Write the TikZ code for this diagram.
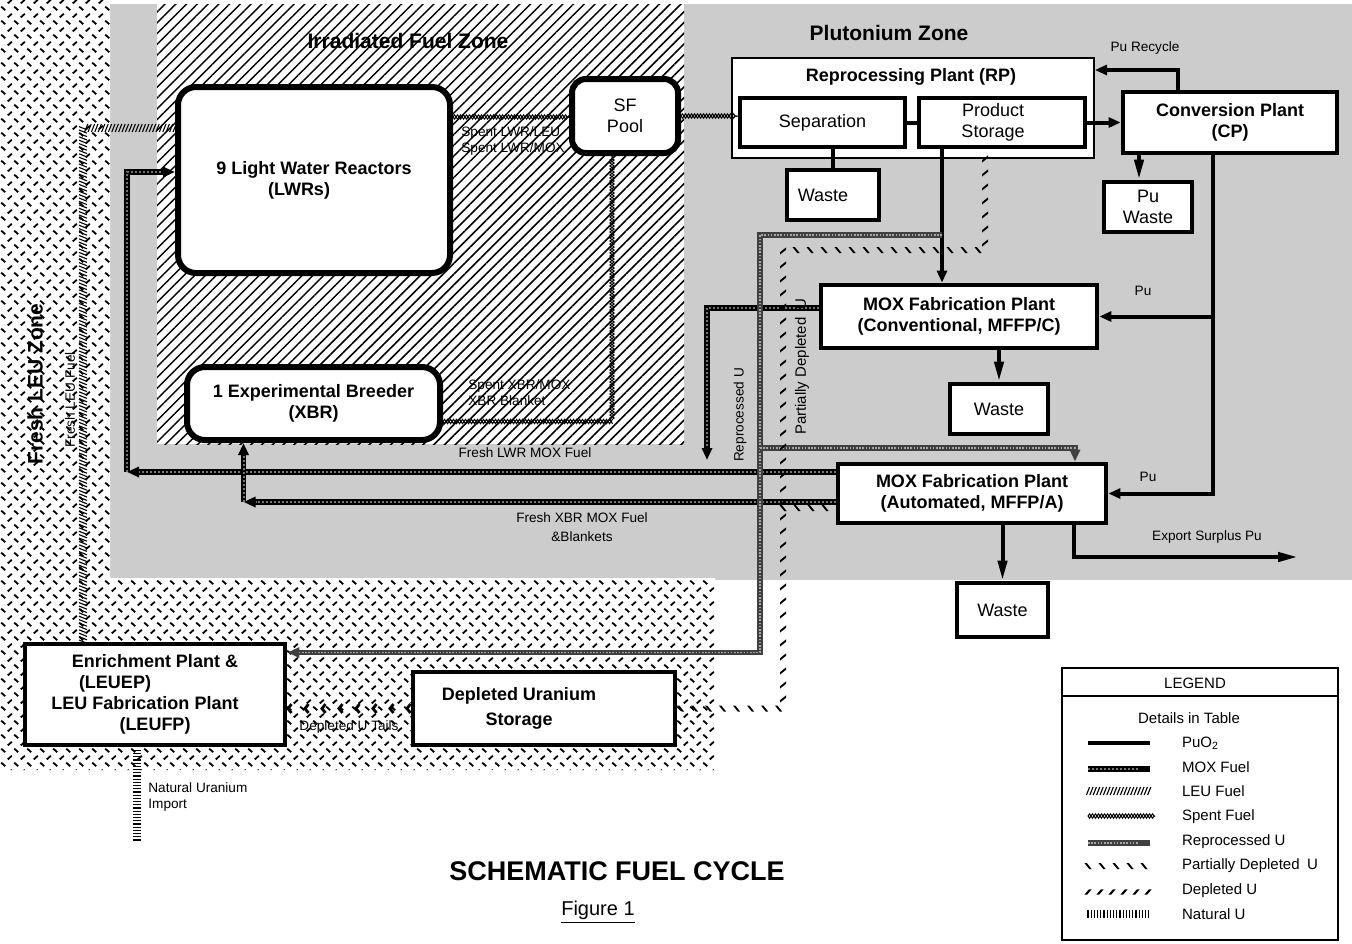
\documentclass[tikz,border=0pt]{standalone}
\usepackage{fontspec}
\setmainfont{Liberation Sans}
\usetikzlibrary{arrows.meta,patterns.meta,decorations.pathmorphing,decorations.markings,positioning}

\newcommand\plantfont{\fontsize{9}{10.5}\selectfont\bfseries}
\newcommand\plainfont{\fontsize{9}{10.5}\selectfont}
\newcommand\flowfont{\fontsize{6.8}{8}\selectfont}
\newcommand\zonefont{\fontsize{10.5}{12}\selectfont\bfseries}
\newcommand\legfont{\fontsize{7.5}{9}\selectfont}

% tread plate look of the fresh LEU zone
\tikzdeclarepattern{
  name=treadplate,
  type=uncolored,
  bounding box={(-0.5pt,-0.5pt) and (7pt,7.5pt)},
  tile size={(6.5pt,7pt)},
  code={
    \draw[line width=0.9pt] (0.6pt,6.2pt) -- (2.6pt,4.4pt);
    \draw[line width=0.9pt] (3.9pt,0.8pt) -- (5.9pt,2.6pt);
  }
}

\tikzset{
  plant/.style={draw, line width=2.4pt, fill=white, align=center, font=\plantfont, inner sep=1pt},
  roundplant/.style={plant, rounded corners=9pt, line width=3pt},
  smallbox/.style={plant, font=\plainfont},
  flowlabel/.style={font=\flowfont, inner sep=0.5pt},
  flowtip/.style={-{Triangle[length=6pt,width=5pt]}},
  longtip/.style={-{Triangle[length=10pt,width=4.5pt]}},
  puo2/.style={line width=2pt},
  moxfuel/.style={line width=2.8pt, postaction={draw, arrows=-, shorten >=6pt, black!55, line width=1pt, dash pattern=on 0.8pt off 1.2pt}},
  reproc/.style={line width=2.6pt, black!75, postaction={draw, arrows=-, shorten >=6pt, black!35, line width=0.9pt, dash pattern=on 0.8pt off 0.8pt}},
  spentfuel/.style={postaction={draw=black, line width=0.5pt, decorate, decoration={zigzag, segment length=3pt, amplitude=1.1pt}},
                    postaction={draw=black, line width=0.5pt, decorate, decoration={zigzag, segment length=3pt, amplitude=-1.1pt}}},
  leufuel/.style={decorate, decoration={markings, mark=between positions 0 and 1 step 1.7pt with {\draw[line width=0.55pt] (-0.8pt,-2pt) -- (0.8pt,2pt);}}},
  natu/.style={decorate, decoration={markings, mark=between positions 0 and 1 step 1.6pt with {\draw[line width=0.6pt] (0,-2pt) -- (0,2pt);}}},
  pdu/.style={decorate, decoration={markings, mark=between positions 0 and 1 step 7pt with {\fill (-1.8pt,1.5pt) -- (-0.6pt,1.5pt) -- (1.8pt,-1.5pt) -- (0.6pt,-1.5pt) -- cycle;}}},
  depu/.style={decorate, decoration={markings, mark=between positions 0 and 1 step 6pt with {\fill (-1.8pt,-1.3pt) -- (-0.4pt,-1.3pt) -- (1.8pt,1.3pt) -- (0.4pt,1.3pt) -- cycle;}}},
  deptails/.style={decorate, decoration={markings, mark=between positions 0.03 and 1 step 8.5pt with {\draw[line width=1.4pt] (-1.8pt,2.2pt) -- (0,0) -- (-1.8pt,-2.2pt);}}}
}

\begin{document}
\begin{tikzpicture}[x=0.5pt, y=-0.5pt]
\useasboundingbox (0,0) rectangle (1352,943);

    % Draw the zones
    \fill[black!20] (100,4) rectangle (1352,580);
    \fill[white] (157,4) rectangle (684,444);
    \fill[pattern={Lines[angle=45,distance=3.8pt,line width=0.75pt]}] (157,4) rectangle (684,444);
    \fill[white] (0,0) -- (110,0) -- (110,578) -- (715,578) -- (715,770) -- (0,770) -- cycle;
    \fill[pattern=treadplate] (0,0) -- (110,0) -- (110,578) -- (715,578) -- (715,770) -- (0,770) -- cycle;

    \node[font=\zonefont] (irrtitle) at (408,41) {Irradiated Fuel Zone};
    \node[font=\zonefont] (putitle) at (889,33) {Plutonium Zone};
    \node[font=\zonefont, rotate=90] (leutitle) at (35,384) {Fresh LEU Zone};

    % Reactors and pool
    \node[roundplant, minimum width=136pt, minimum height=93pt] (lwr) at (314,180) {9 Light Water Reactors\\\hspace*{-15pt}(LWRs)};
    \node[roundplant, rounded corners=7pt, font=\plainfont, minimum width=53pt, minimum height=37pt] (sfpool) at (625,116) {SF\\Pool};
    \node[roundplant, minimum width=126.5pt, minimum height=36.5pt] (xbr) at (313.5,403.5) {1 Experimental Breeder\\(XBR)};

    % Reprocessing plant
    \node[draw, line width=1pt, fill=white, minimum width=181pt, minimum height=50pt] (rp) at (913,108) {};
    \node[font=\plantfont] (rptitle) at (911,77) {Reprocessing Plant (RP)};
    \node[smallbox, minimum width=82.5pt, minimum height=24.5pt] (sep) at (822.5,122.5) {Separation};
    \node[smallbox, minimum width=83pt, minimum height=24.5pt] (store) at (1002,122.5) {\hspace*{-9pt}Product\\\hspace*{-9pt}Storage};
    \node[smallbox, minimum width=46pt, minimum height=25pt] (waste1) at (833,195) {\hspace*{-10pt}Waste};

    % Conversion plant
    \node[plant, minimum width=107pt, minimum height=30.5pt] (cp) at (1230,122.5) {Conversion Plant\\(CP)};
    \node[smallbox, minimum width=44pt, minimum height=25pt] (puwaste) at (1148,207) {Pu\\Waste};

    % MOX fabrication plants
    \node[plant, minimum width=138pt, minimum height=31.5pt] (mffpc) at (959,316.5) {MOX Fabrication Plant\\(Conventional, MFFP/C)};
    \node[smallbox, minimum width=49pt, minimum height=25pt] (waste2) at (999,409) {Waste};
    \node[plant, minimum width=134pt, minimum height=29.5pt] (mffpa) at (972,493.5) {MOX Fabrication Plant\\(Automated, MFFP/A)};
    \node[smallbox, minimum width=45.5pt, minimum height=27pt] (waste3) at (1002.5,610) {Waste};

    % Enrichment and storage
    \node[plant, minimum width=130pt, minimum height=50.5pt] (enrich) at (155,694.5) {Enrichment Plant \&\\\hspace*{-40pt}(LEUEP)\\\hspace*{-10pt}LEU Fabrication Plant\\(LEUFP)};
    \node[plant, minimum width=131pt, minimum height=36.5pt] (dustore) at (544,708.5) {\hspace*{-25pt}Depleted Uranium\\[2pt]\hspace*{-25pt}Storage};

    % Points on the plant borders
    \coordinate (stout) at ([xshift=-30pt]store.south);
    \coordinate (cpout) at ([xshift=-8.5pt]cp.south);
    \coordinate (cprec) at ([xshift=-26pt]cp.north);
    \coordinate (rpin) at ([yshift=19pt]rp.east);
    \coordinate (cpwaste) at ([xshift=-4.5pt]puwaste.north);
    \coordinate (expout) at ([xshift=51pt]mffpa.south);
    \coordinate (mfcout) at ([yshift=4.25pt]mffpc.west);
    \coordinate (mfalwr) at ([yshift=10.75pt]mffpa.west);
    \coordinate (mfaxbr) at ([yshift=-4.25pt]mffpa.west);
    \coordinate (mfapd) at ([yshift=-7.25pt]mffpa.west);
    \coordinate (mfain) at ([xshift=51.5pt]mffpa.north);
    \coordinate (lwrmox) at ([yshift=4pt]lwr.west);
    \coordinate (lwrleu) at ([yshift=26pt]lwr.west);
    \coordinate (lwrsf) at ([yshift=31.5pt]lwr.east);
    \coordinate (xbrsf) at ([yshift=-9pt]xbr.east);
    \coordinate (xbrin) at ([xshift=-35pt]xbr.south);
    \coordinate (sfdrop) at ([xshift=-6.5pt]sfpool.south);
    \coordinate (rpout) at ([xshift=36pt]rp.south);
    \coordinate (enrin) at ([yshift=21pt]enrich.east);
    \coordinate (enrleu) at ([xshift=-36pt]enrich.north);
    \coordinate (enrnat) at ([xshift=-9pt]enrich.south);

    % Bends and free ends
    \coordinate (rutop) at (760,235);
    \coordinate (rusplit) at (760,448);
    \coordinate (moxdown) at (707,460);
    \coordinate (lwrbend) at (127,472);
    \coordinate (xbrbend) at (243.5,502);
    \coordinate (pdtop) at (783,250);
    \coordinate (natimport) at (137,840);
    \coordinate (export) at (1298,557);

    % PuO2 flows
    \draw[puo2] (sep) -- (store);
    \draw[puo2] (waste1.north |- sep.south) -- (waste1.north);
    \draw[puo2,flowtip] (store) -- (cp);
    \draw[puo2,longtip] (cpwaste |- cp.south) -- (cpwaste);
    \draw[puo2,flowtip] (cprec) |- (rpin);
    \draw[puo2,flowtip] (stout) -- (stout |- mffpc.north);
    \draw[puo2,flowtip] (cpout) |- (mffpa.east);
    \draw[puo2,flowtip] (cpout |- mffpc.east) -- (mffpc.east);
    \draw[puo2,longtip] (waste2.north |- mffpc.south) -- (waste2.north);
    \draw[puo2,longtip] (waste3.north |- mffpa.south) -- (waste3.north);
    \draw[puo2,longtip] (expout) |- (export);

    % MOX fuel
    \draw[moxfuel,flowtip] (mfcout) -| (moxdown);
    \draw[moxfuel,flowtip] (mfalwr) -- (lwrbend);
    \draw[moxfuel,flowtip] (lwrbend) |- (lwrmox);
    \draw[moxfuel,flowtip] (mfaxbr) -- (xbrbend);
    \draw[moxfuel,flowtip] (xbrbend) -- (xbrin);

    % Reprocessed U
    \draw[reproc,flowtip] (stout |- rutop) -- (rutop) |- (enrin);
    \draw[reproc,flowtip] (rusplit) -| (mfain);

    % Depleted U
    \path[pdu] (rpout) |- (pdtop) |- (dustore.east);
    \path[pdu] (pdtop |- mfapd) -- (mfapd);
    \path[deptails] (dustore.west) -- (dustore.west -| enrich.east);

    % LEU and natural U
    \path[leufuel] (enrleu) |- (lwrleu);
    \path[natu] (natimport) -- (enrnat);

    % Spent fuel
    \path[spentfuel] (lwrsf) -- (lwrsf -| sfpool.west);
    \path[spentfuel] (sfpool.east) -- (sfpool.east -| sep.west);
    \path[spentfuel] (xbrsf) -| (sfdrop);

    % Flow labels
    \node[flowlabel, anchor=west, align=left] (spentlwr) at (460,141) {Spent LWR/LEU\\Spent LWR/MOX};
    \node[flowlabel, anchor=west, align=left] (spentxbr) at (467,393) {Spent XBR/MOX\\XBR Blanket};
    \node[flowlabel] (lwrmoxlbl) at (525,453) {Fresh LWR MOX Fuel};
    \node[flowlabel, align=center] (xbrmoxlbl) at (582,527) {Fresh XBR MOX Fuel\\[1.5pt]\&Blankets};
    \node[flowlabel, rotate=90] (rulbl) at (740,415) {Reprocessed U};
    \node[flowlabel, rotate=90, font=\fontsize{7.5}{9}\selectfont] (pdulbl) at (802,367) {Partially Depleted\enspace U};
    \node[flowlabel] (pulbla) at (1143,291) {Pu};
    \node[flowlabel] (pulblb) at (1148,477) {Pu};
    \node[flowlabel] (recyclelbl) at (1145,48) {Pu Recycle};
    \node[flowlabel] (exportlbl) at (1207,537) {Export Surplus Pu};
    \node[flowlabel, anchor=west, align=left] (natlbl) at (147,797) {Natural Uranium\\Import};
    \node[flowlabel] (tailslbl) at (349,727) {Depleted U Tails};
    \node[flowlabel, rotate=90] (leulbl) at (70,400) {Fresh LEU Fuel};

    % Title
    \node[font=\fontsize{13.5}{16}\selectfont\bfseries] (title) at (617,871) {SCHEMATIC FUEL CYCLE};
    \node[font=\fontsize{10}{12}\selectfont] (figlbl) at (598,912) {\underline{Figure 1}};

    % Legend
    \node[draw, line width=1pt, fill=white, minimum width=138pt, minimum height=136pt] (legend) at (1200,804) {};
    \draw[line width=1pt] ([yshift=-14.5pt]legend.north west) -- ([yshift=-14.5pt]legend.north east);
    \node[font=\legfont] (legtitle) at (1195,683) {LEGEND};
    \node[font=\legfont] (legdetails) at (1189,718) {Details in Table};
    \draw[puo2] (1088,743) -- (1150,743);
    \draw[moxfuel] (1088,769) -- (1150,769);
    \path[leufuel] (1088,791) -- (1150,791);
    \path[spentfuel] (1088,816) -- (1155,816);
    \draw[reproc] (1088,843) -- (1150,843);
    \path[pdu] (1088,866) -- (1152,866);
    \path[depu] (1088,892) -- (1150,892);
    \path[natu] (1088,914) -- (1150,914);
    \node[font=\legfont, anchor=west] (legpuo) at (1175,743) {PuO\textsubscript{2}};
    \node[font=\legfont, anchor=west] (legmox) at (1175,767) {MOX Fuel};
    \node[font=\legfont, anchor=west] (legleu) at (1175,791) {LEU Fuel};
    \node[font=\legfont, anchor=west] (legspent) at (1175,817) {Spent Fuel};
    \node[font=\legfont, anchor=west] (legru) at (1175,842) {Reprocessed U};
    \node[font=\legfont, anchor=west] (legpdu) at (1175,866) {Partially Depleted\enspace U};
    \node[font=\legfont, anchor=west] (legdu) at (1175,891) {Depleted U};
    \node[font=\legfont, anchor=west] (legnat) at (1175,914) {Natural U};

\end{tikzpicture}
\end{document}
